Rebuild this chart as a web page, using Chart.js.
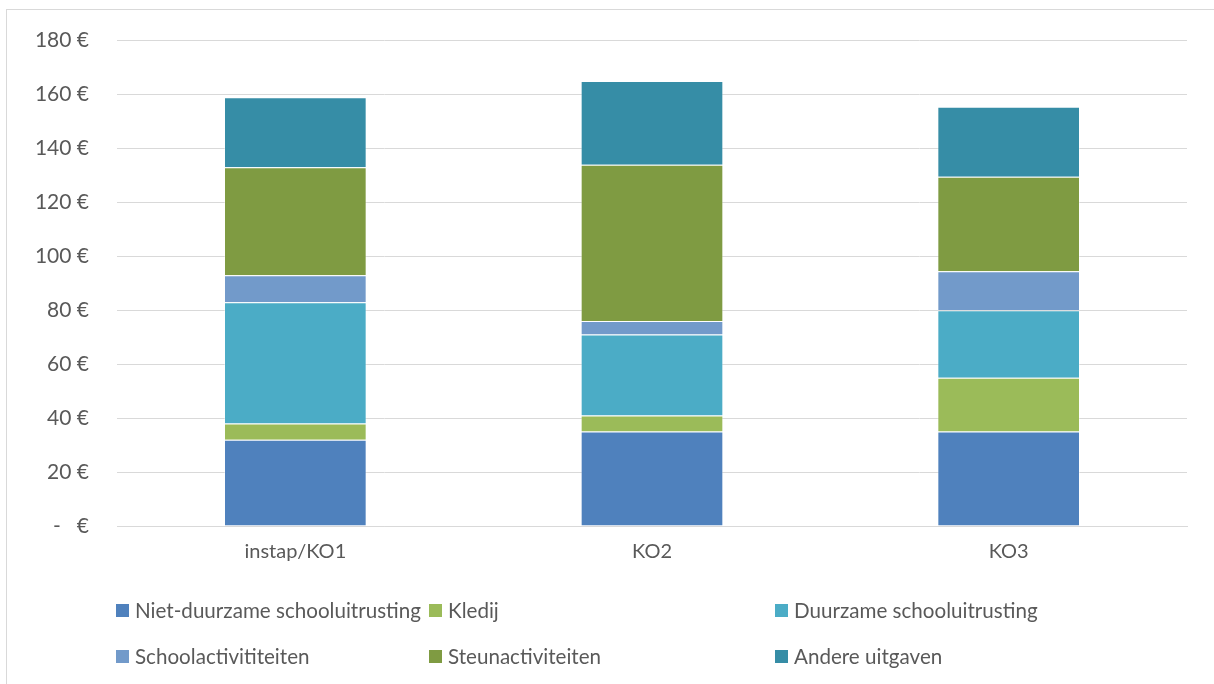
<!DOCTYPE html>
<html>
<head>
<meta charset="utf-8">
<script src="https://cdn.jsdelivr.net/npm/chart.js@4.4.1/dist/chart.umd.min.js"></script>
<style>
  body { margin: 0; background: #fff; font-family: Lato, "Open Sans", sans-serif; }
  #wrap { position: relative; width: 1214px; height: 684px; overflow: hidden; }
  #frame { position: absolute; left: 6px; top: 9px; right: -2px; bottom: -2px;
           border-left: 1px solid #d9d9d9; border-top: 1px solid #d9d9d9; pointer-events: none; }
  canvas { position: absolute; left: 0; top: 0; }
  .leg { position: absolute; display: flex; align-items: center; font-size: 20.6px; color: #595959; white-space: nowrap; }
  .leg span.box { display: inline-block; width: 13px; height: 13px; margin-right: 6px; }
</style>
</head>
<body>
<div id="wrap">
  <canvas id="myChart" width="1214" height="684"></canvas>
  <div id="frame"></div>
  <div id="legend"></div>
</div>
<script>
// categories
const categories = ['instap/KO1', 'KO2', 'KO3'];

// series (bottom to top)
const seriesNames = [
  'Niet-duurzame schooluitrusting',
  'Kledij',
  'Duurzame schooluitrusting',
  'Schoolactivititeiten',
  'Steunactiviteiten',
  'Andere uitgaven'
];
const nietDuurzaam = [32, 35, 35];
const kledij = [6, 6, 20];
const duurzaam = [45, 30, 25];
const schoolActiviteiten = [10, 5, 14.5];
const steunActiviteiten = [40, 58, 35];
const andereUitgaven = [26, 31, 26];

const seriesColors = ['#4F81BD', '#9BBB59', '#4BACC6', '#729ACA', '#7F9B42', '#368DA6'];

// y axis ticks
const yTicks = [0, 20, 40, 60, 80, 100, 120, 140, 160, 180];

const seriesValues = [nietDuurzaam, kledij, duurzaam, schoolActiviteiten, steunActiviteiten, andereUitgaven];

const ctx = document.getElementById('myChart').getContext('2d');
const chart = new Chart(ctx, {
    type: 'bar',
    data: {
        labels: categories,
        datasets: seriesNames.map(function (name, i) {
            return {
                label: name,
                data: seriesValues[i],
                backgroundColor: seriesColors[i],
                borderColor: 'rgba(255,255,255,0.35)',
                borderWidth: 1,
                categoryPercentage: 1.0,
                barPercentage: 0.4
            };
        })
    },
    options: {
        responsive: false,
        animation: false,
        layout: { padding: { left: 0, top: 39 - 10, right: 1214 - 1187, bottom: 106 } },
        plugins: {
            legend: { display: false },
            tooltip: { enabled: false }
        },
        scales: {
            x: {
                stacked: true,
                grid: { display: false, drawTicks: false },
                border: { display: true, color: '#d9d9d9', width: 1 },
                ticks: {
                    color: '#595959',
                    font: { family: 'Lato', size: 20 },
                    padding: 14
                }
            },
            y: {
                stacked: true,
                min: 0,
                max: 180,
                afterFit: function (scale) { scale.width = 117; },
                afterBuildTicks: function (scale) {
                    scale.ticks = yTicks.map(function (v) { return { value: v }; });
                },
                grid: { color: '#d9d9d9', lineWidth: 1, drawTicks: false },
                border: { display: false },
                ticks: {
                    color: '#595959',
                    font: { family: 'Lato', size: 21 },
                    padding: 28,
                    callback: function (v) { return v === 0 ? '-   €' : v + ' €'; }
                }
            }
        }
    }
});

// Excel-style legend: 3 columns, 2 rows
const legendCols = [116, 429, 775];
const legendRows = [610, 656];
const legendEl = document.getElementById('legend');
seriesNames.forEach(function (name, i) {
    const item = document.createElement('div');
    item.className = 'leg';
    item.style.left = legendCols[i % 3] + 'px';
    item.style.top = (legendRows[Math.floor(i / 3)] - 13) + 'px';
    item.style.height = '26px';
    item.innerHTML = '<span class="box" style="background:' + seriesColors[i] + '"></span>' + name;
    legendEl.appendChild(item);
});
</script>
</body>
</html>
